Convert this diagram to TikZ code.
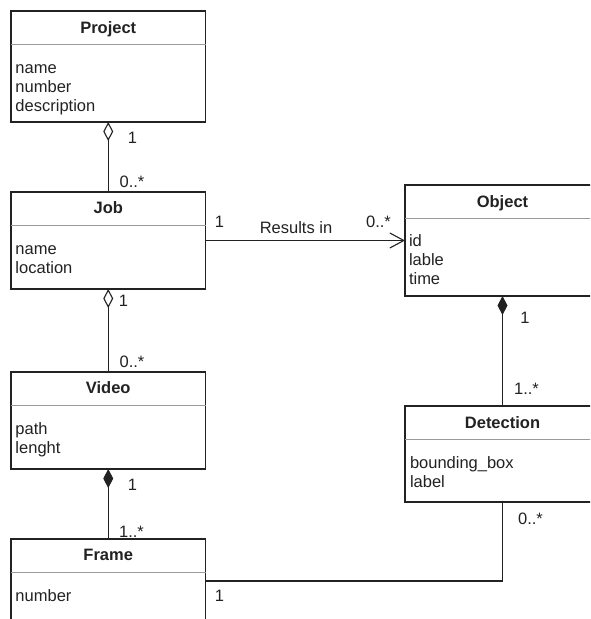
\documentclass[tikz,border=0pt]{standalone}
\usepackage{fontspec}
\setmainfont{Liberation Sans}
\usetikzlibrary{arrows.meta}
\definecolor{ink}{HTML}{222222}
\definecolor{sepline}{HTML}{9A9A9A}
\begin{document}
\begin{tikzpicture}[x=1pt, y=-1pt,
  every node/.style={inner sep=0pt, outer sep=0pt, text=ink,
    font=\fontsize{16.5}{19}\selectfont},
  classbox/.style={draw=ink, line width=1.1pt, rectangle, anchor=north west},
  leftcol/.style={minimum width=194.5pt},
  rightcol/.style={minimum width=195pt},
  headrule/.style={draw=sepline, line width=1pt},
  title/.style={anchor=base, font=\fontsize{16.5}{19}\selectfont\bfseries},
  attr/.style={anchor=base west},
  mult/.style={anchor=center},
  assoc/.style={draw=ink, line width=1.1pt},
  aggr/.style={assoc, {Diamond[open, length=19pt, width=10pt]}-},
  comp/.style={assoc, {Diamond[length=19pt, width=10pt]}-},
  directed/.style={assoc, -{Straight Barb[length=14pt, width=15pt]}},
]
\useasboundingbox (0,0) rectangle (590,619);
\fill[white] (0,0) rectangle (590,619);
\clip (0,0) rectangle (590,619);

% ---- classes ----
\node[classbox, leftcol, minimum height=111pt] (project) at (11,11) {};
\draw[headrule] ([yshift=-33.5pt]project.north west) -- ([yshift=-33.5pt]project.north east);
\node[title] (project-title) at (108.25,33.5) {Project};
\node[attr] (project-a1) at (15.5,73) {name};
\node[attr] (project-a2) at (15.5,92) {number};
\node[attr] (project-a3) at (15.5,111) {description};

\node[classbox, leftcol, minimum height=97pt] (job) at (11,192) {};
\draw[headrule] ([yshift=-33.5pt]job.north west) -- ([yshift=-33.5pt]job.north east);
\node[title] (job-title) at (108.25,213.5) {Job};
\node[attr] (job-a1) at (15.5,254) {name};
\node[attr] (job-a2) at (15.5,273) {location};

\node[classbox, leftcol, minimum height=97pt] (video) at (11,372) {};
\draw[headrule] ([yshift=-33.5pt]video.north west) -- ([yshift=-33.5pt]video.north east);
\node[title] (video-title) at (108.25,393.5) {Video};
\node[attr] (video-a1) at (15.5,434) {path};
\node[attr] (video-a2) at (15.5,453) {lenght};

\node[classbox, leftcol, minimum height=110pt] (frame) at (11,539) {};
\draw[headrule] ([yshift=-33.5pt]frame.north west) -- ([yshift=-33.5pt]frame.north east);
\node[title] (frame-title) at (108.25,560.5) {Frame};
\node[attr] (frame-a1) at (15.5,601) {number};

\node[classbox, rightcol, minimum height=111pt] (object) at (405,185) {};
\draw[headrule] ([yshift=-33.5pt]object.north west) -- ([yshift=-33.5pt]object.north east);
\node[title] (object-title) at (502.5,207) {Object};
\node[attr] (object-a1) at (409,246) {id};
\node[attr] (object-a2) at (409,265) {lable};
\node[attr] (object-a3) at (409,284) {time};

\node[classbox, rightcol, minimum height=96pt] (detection) at (405,406) {};
\draw[headrule] ([yshift=-33.5pt]detection.north west) -- ([yshift=-33.5pt]detection.north east);
\node[title] (detection-title) at (502.5,428) {Detection};
\node[attr] (detection-a1) at (410,468) {bounding\_box};
\node[attr] (detection-a2) at (410,487) {label};

% ---- associations ----
\draw[aggr] (project.south) -- (job.north);
\node[mult] (m-pj1) at (132.5,138) {1};
\node[mult] (m-pj2) at (132,182) {0..*};

\draw[aggr] (job.south) -- (video.north);
\node[mult] (m-jv1) at (123.5,301) {1};
\node[mult] (m-jv2) at (132,362) {0..*};

\draw[comp] (video.south) -- (frame.north);
\node[mult] (m-vf1) at (132.5,485) {1};
\node[mult] (m-vf2) at (131.5,532) {1..*};

\draw[comp] (object.south) -- (detection.north);
\node[mult] (m-od1) at (525,318) {1};
\node[mult] (m-od2) at (526.5,389) {1..*};

\draw[directed] (job.east) -- (object.west);
\node[mult] (m-jo1) at (219.5,222) {1};
\node[mult] (m-jo-label) at (296,227.5) {Results in};
\node[mult] (m-jo2) at (378.5,222) {0..*};

\draw[assoc] ([yshift=-42pt]frame.north east) -| (detection.south);
\node[mult] (m-fd1) at (219.5,596) {1};
\node[mult] (m-fd2) at (530.5,519) {0..*};
\end{tikzpicture}
\end{document}
